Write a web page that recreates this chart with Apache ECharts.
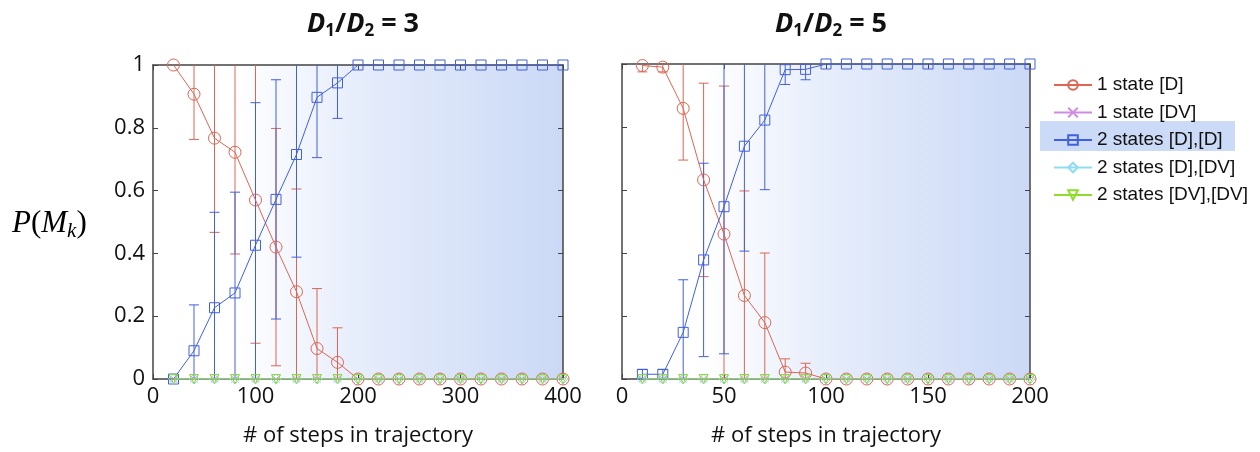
<!DOCTYPE html>
<html><head><meta charset="utf-8">
<script src="https://cdn.jsdelivr.net/npm/echarts@6/dist/echarts.min.js"></script>
<style>html,body{margin:0;padding:0;background:#fff}#c{width:1260px;height:452px}</style>
</head><body><div id="c"></div>
<script>
// ---------- data ----------
const stepsA = [20,40,60,80,100,120,140,160,180,200,220,240,260,280,300,320,340,360,380,400];
const stepsB = [10,20,30,40,50,60,70,80,90,100,110,120,130,140,150,160,170,180,190,200];
const seriesNames = ['1 state [D]','1 state [DV]','2 states [D],[D]','2 states [D],[DV]','2 states [DV],[DV]'];

// panel A: D1/D2 = 3
const oneD_A      = [1.0,0.907,0.767,0.722,0.570,0.420,0.278,0.097,0.053,0,0,0,0,0,0,0,0,0,0,0];
const oneD_A_err  = [0,0.144,0.300,0.324,0.456,0.378,0.327,0.191,0.110,0,0,0,0,0,0,0,0,0,0,0];
const oneDV_A     = [0,0,0,0,0,0,0,0,0,0,0,0,0,0,0,0,0,0,0,0];
const twoDD_A     = [0,0.090,0.227,0.274,0.426,0.572,0.715,0.897,0.943,1,1,1,1,1,1,1,1,1,1,1];
const twoDD_A_err = [0,0.146,0.304,0.321,0.454,0.381,0.327,0.192,0.113,0,0,0,0,0,0,0,0,0,0,0];
const twoDDV_A    = [0,0,0,0,0,0,0,0,0,0,0,0,0,0,0,0,0,0,0,0];
const twoDVDV_A   = [0,0,0,0,0,0,0,0,0,0,0,0,0,0,0,0,0,0,0,0];

// panel B: D1/D2 = 5
const oneD_B      = [0.995,0.990,0.859,0.632,0.460,0.265,0.179,0.022,0.019,0,0,0,0,0,0,0,0,0,0,0];
const oneD_B_err  = [0.020,0.015,0.164,0.307,0.470,0.332,0.221,0.042,0.031,0,0,0,0,0,0,0,0,0,0,0];
const oneDV_B     = [0,0,0,0,0,0,0,0,0,0,0,0,0,0,0,0,0,0,0,0];
const twoDD_B     = [0.015,0.015,0.148,0.378,0.547,0.739,0.822,0.982,0.983,1,1,1,1,1,1,1,1,1,1,1];
const twoDD_B_err = [0.015,0.015,0.167,0.307,0.467,0.333,0.221,0.047,0.033,0,0,0,0,0,0,0,0,0,0,0];
const twoDDV_B    = [0,0,0,0,0,0,0,0,0,0,0,0,0,0,0,0,0,0,0,0];
const twoDVDV_B   = [0,0,0,0,0,0,0,0,0,0,0,0,0,0,0,0,0,0,0,0];

// ---------- styles ----------
const C_RED = '#dc6653', C_PUR = '#d08ce0', C_BLUE = '#4060e0', C_CYAN = '#8fdcf0', C_GREEN = '#8fdc2c';
const FONT = 'Open Sans';
const AX = '#444';
const symX = 'path://M0,0L10,10M10,0L0,10';
const symTri = 'path://M0,0L10,0L5,9Z';

const seriesStyle = [
  {color: C_RED, symbol: 'circle', size: 12},
  {color: C_PUR, symbol: symX, size: 7},
  {color: C_BLUE, symbol: 'rect', size: 10},
  {color: C_CYAN, symbol: 'diamond', size: 10},
  {color: C_GREEN, symbol: symTri, size: 9}
];

function zip(xs, ys) { return xs.map((x, i) => [x, ys[i]]); }
function zip3(xs, ys, es) { return xs.map((x, i) => [x, ys[i], es[i]]); }

function lineSeries(k, xs, ys, gi) {
  const s = seriesStyle[k];
  return {
    name: seriesNames[k], type: 'line', xAxisIndex: gi * 2, yAxisIndex: gi * 2,
    data: zip(xs, ys), symbol: s.symbol, symbolSize: s.size, showAllSymbol: true,
    lineStyle: {color: s.color, width: 1}, itemStyle: {color: 'rgba(255,255,255,0)', borderColor: s.color, borderWidth: 1},
    emphasis: {disabled: true}, z: 3 + k, animation: false
  };
}

function errSeries(xs, ys, es, color, gi) {
  return {
    type: 'custom', xAxisIndex: gi * 2, yAxisIndex: gi * 2, data: zip3(xs, ys, es),
    z: 2, silent: true, animation: false,
    renderItem: function (params, api) {
      const x = api.value(0), v = api.value(1), e = api.value(2);
      if (!(e > 0)) return null;
      const cs = params.coordSys;
      const pLo = api.coord([x, v - e]), pHi = api.coord([x, v + e]);
      const top = cs.y, bot = cs.y + cs.height;
      const yTop = Math.max(pHi[1], top), yBot = Math.min(pLo[1], bot);
      const st = {stroke: color, lineWidth: 1};
      const ch = [{type: 'line', shape: {x1: pLo[0], y1: yBot, x2: pLo[0], y2: yTop}, style: st}];
      const w = 5;
      if (pHi[1] >= top) ch.push({type: 'line', shape: {x1: pHi[0] - w, y1: pHi[1], x2: pHi[0] + w, y2: pHi[1]}, style: st});
      if (pLo[1] <= bot) ch.push({type: 'line', shape: {x1: pLo[0] - w, y1: pLo[1], x2: pLo[0] + w, y2: pLo[1]}, style: st});
      return {type: 'group', children: ch};
    }
  };
}

const grad = {type: 'linear', x: 0, y: 0, x2: 1, y2: 0, colorStops: [
  {offset: 0, color: '#ffffff'}, {offset: 0.2, color: '#ffffff'},
  {offset: 0.5, color: '#e6edfb'}, {offset: 1, color: '#cbd9f6'}]};

function xAx(gi, max, interval, pos) {
  const main = pos === 'bottom';
  return {
    gridIndex: gi, type: 'value', min: 0, max: max, interval: interval, position: pos,
    axisLine: {show: true, onZero: false, lineStyle: {color: AX, width: 1.5}},
    axisTick: {show: true, inside: true, length: 5, lineStyle: {color: AX}},
    axisLabel: {show: main, fontFamily: FONT, fontSize: 22, color: '#111', margin: 7},
    splitLine: {show: false},
    name: main ? '# of steps in trajectory' : '', nameLocation: 'middle', nameGap: 46,
    nameTextStyle: {fontFamily: FONT, fontSize: 22, color: '#111'}
  };
}
function yAx(gi, pos, labels) {
  return {
    gridIndex: gi, type: 'value', min: 0, max: 1, interval: 0.2, position: pos,
    axisLine: {show: true, onZero: false, lineStyle: {color: AX, width: 1.5}},
    axisTick: {show: true, inside: true, length: 5, lineStyle: {color: AX}},
    axisLabel: {show: labels, fontFamily: FONT, fontSize: 22, color: '#111', margin: 8},
    splitLine: {show: false}
  };
}

function titleRich(n) {
  return {
    text: '{d|D}{s|1}{n|/}{d|D}{s|2}{n| = ' + n + '}',
    textStyle: {
      rich: {
        d: {fontFamily: FONT, fontSize: 27, fontWeight: 'bold', fontStyle: 'italic', color: '#111', lineHeight: 32},
        n: {fontFamily: FONT, fontSize: 27, fontWeight: 'bold', color: '#111', lineHeight: 32},
        s: {fontFamily: FONT, fontSize: 17, fontWeight: 'bold', color: '#111', lineHeight: 17, verticalAlign: 'bottom'}
      }
    }
  };
}

const series = [];
// panel A
series.push(errSeries(stepsA, oneD_A, oneD_A_err, C_RED, 0));
series.push(errSeries(stepsA, twoDD_A, twoDD_A_err, C_BLUE, 0));
[oneD_A, oneDV_A, twoDD_A, twoDDV_A, twoDVDV_A].forEach((d, k) => series.push(lineSeries(k, stepsA, d, 0)));
// panel B
series.push(errSeries(stepsB, oneD_B, oneD_B_err, C_RED, 1));
series.push(errSeries(stepsB, twoDD_B, twoDD_B_err, C_BLUE, 1));
[oneD_B, oneDV_B, twoDD_B, twoDDV_B, twoDVDV_B].forEach((d, k) => series.push(lineSeries(k, stepsB, d, 1)));

const chart = echarts.init(document.getElementById('c'), null, {renderer: 'canvas'});
chart.setOption({
  animation: false,
  backgroundColor: '#fff',
  title: [
    Object.assign({left: 358, top: 3, textAlign: 'center'}, titleRich(3)),
    Object.assign({left: 826, top: 3, textAlign: 'center'}, titleRich(5))
  ],
  grid: [
    {left: 153, right: 697, top: 65, bottom: 68, show: true, backgroundColor: grad, borderWidth: 0},
    {left: 622, right: 230, top: 64, bottom: 70, show: true, backgroundColor: grad, borderWidth: 0}
  ],
  xAxis: [xAx(0, 400, 100, 'bottom'), xAx(0, 400, 100, 'top'), xAx(1, 200, 50, 'bottom'), xAx(1, 200, 50, 'top')],
  yAxis: [yAx(0, 'left', true), yAx(0, 'right', false), yAx(1, 'left', false), yAx(1, 'right', false)],
  legend: {
    data: seriesNames, orient: 'vertical', left: 1048, top: 70,
    itemWidth: 38, itemHeight: 12, itemGap: 7.5,
    textStyle: {fontFamily: 'Liberation Sans', fontSize: 19, color: '#111', lineHeight: 20},
    selectedMode: false
  },
  graphic: [
    {type: 'rect', left: 1040, top: 121, shape: {width: 195, height: 30}, style: {fill: '#cbdaf6'}, z: 0},
    {type: 'text', left: 12, top: 208, style: {
      text: '{i|P}{r|(}{i|M}{s|k}{r|)}',
      rich: {
        i: {fontFamily: 'Liberation Serif', fontStyle: 'italic', fontSize: 31, color: '#111', lineHeight: 36},
        r: {fontFamily: 'Liberation Serif', fontSize: 31, color: '#111', lineHeight: 36},
        s: {fontFamily: 'Liberation Serif', fontStyle: 'italic', fontSize: 21, color: '#111', lineHeight: 20, verticalAlign: 'bottom'}
      }
    }}
  ],
  series: series
});
</script>
</body></html>
